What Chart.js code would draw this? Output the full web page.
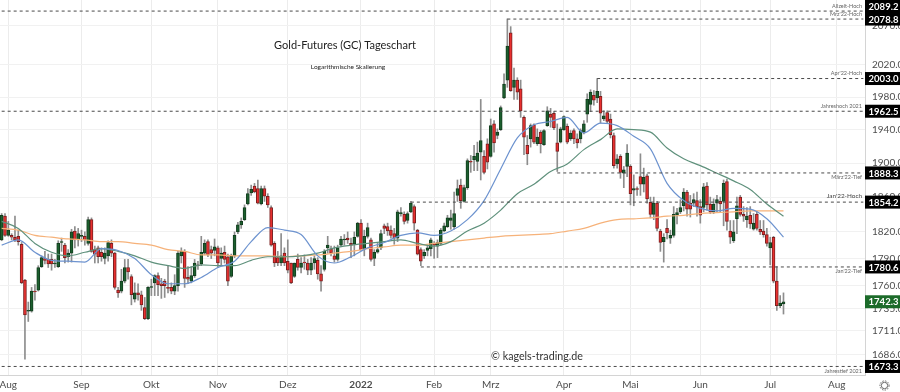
<!DOCTYPE html>
<html>
<head>
<meta charset="utf-8">
<title>Gold-Futures (GC) Tageschart</title>
<script src="https://cdn.jsdelivr.net/npm/chart.js@4/dist/chart.umd.min.js"></script>
<style>
  html, body { margin: 0; padding: 0; background: #fff; }
  canvas { display: block; }
</style>
</head>
<body>
<canvas id="goldChart" width="900" height="392"></canvas>
<script>
"use strict";

// daily candles, one block of ten per line
const opens = [
  1811,1838,1816,1816,1814,1815,1806,1766,1732,1732,
  1754,1755,1781,1790,1789,1789,1784,1781,1808,1805,
  1792,1796,1821,1811,1815,1815,1807,1834,1800,1802,
  1797,1790,1793,1807,1796,1755,1754,1765,1780,1770,
  1745,1752,1750,1736,1724,1758,1763,1771,1762,1765,
  1758,1758,1754,1760,1793,1798,1769,1765,1771,1783,
  1784,1796,1809,1800,1799,1802,1790,1797,1792,1770,
  1793,1820,1828,1834,1852,1865,1873,1870,1852,1870,
  1861,1848,1807,1791,1785,1796,1787,1785,1770,1789,
  1780,1786,1785,1777,1785,1788,1773,1778,1802,1801,
  1793,1789,1805,1811,1813,1807,1806,1815,1830,1801,
  1815,1811,1790,1797,1802,1827,1826,1822,1818,1813,
  1841,1840,1833,1843,1849,1822,1800,1793,1799,1801,
  1807,1804,1807,1821,1826,1833,1826,1862,1874,1855,
  1871,1902,1904,1902,1913,1908,1923,1908,1947,1933,
  1940,1979,2001,2061,1992,2001,1990,1955,1921,1929,
  1946,1923,1937,1922,1945,1959,1960,1924,1925,1940,
  1944,1929,1939,1929,1929,1937,1959,1971,1982,1979,
  1981,1953,1961,1953,1933,1899,1908,1888,1896,1896,
  1868,1870,1884,1875,1885,1854,1840,1853,1821,1809,
  1824,1813,1816,1839,1843,1850,1866,1853,1853,1856,
  1849,1848,1873,1852,1843,1853,1855,1855,1878,1821,
  1810,1835,1860,1840,1834,1839,1823,1840,1823,1821,
  1817,1802,1814,1765,1738,1740
];
const closes = [
  1839,1816,1822,1814,1811,1809,1763,1728,1733,1754,
  1753,1780,1791,1788,1784,1784,1785,1807,1809,1791,
  1796,1820,1811,1818,1816,1811,1834,1798,1795,1792,
  1792,1796,1808,1796,1758,1752,1765,1780,1775,1750,
  1752,1750,1739,1724,1758,1759,1771,1761,1760,1760,
  1757,1754,1760,1796,1798,1768,1767,1771,1785,1782,
  1797,1807,1794,1796,1803,1785,1796,1789,1765,1793,
  1816,1828,1832,1848,1864,1869,1866,1853,1870,1861,
  1851,1805,1785,1785,1793,1785,1777,1763,1785,1780,
  1785,1785,1777,1785,1790,1773,1765,1798,1805,1796,
  1789,1802,1812,1812,1811,1805,1814,1830,1800,1815,
  1825,1789,1797,1800,1818,1824,1821,1816,1813,1843,
  1842,1832,1841,1853,1830,1795,1787,1797,1802,1811,
  1805,1808,1822,1827,1836,1836,1841,1870,1856,1871,
  1903,1901,1908,1912,1927,1889,1901,1945,1924,1937,
  1967,1996,2044,1988,2001,1986,1963,1931,1911,1945,
  1925,1931,1923,1939,1963,1955,1942,1914,1941,1956,
  1925,1936,1929,1924,1939,1947,1977,1986,1976,1987,
  1960,1957,1950,1934,1897,1905,1889,1892,1912,1864,
  1870,1869,1875,1883,1858,1840,1853,1824,1808,1814,
  1819,1816,1840,1842,1848,1866,1846,1846,1857,1849,
  1839,1872,1851,1843,1852,1857,1852,1876,1832,1814,
  1820,1850,1840,1838,1838,1829,1830,1824,1820,1817,
  1807,1808,1765,1738,1741,1742.3
];
const highs = [
  1841,1841,1832,1818,1838,1822,1808,1767,1742,1758,
  1761,1782,1793,1798,1795,1795,1789,1810,1813,1807,
  1800,1823,1826,1824,1822,1820,1837,1836,1804,1804,
  1802,1802,1810,1811,1797,1758,1778,1789,1789,1772,
  1763,1762,1754,1747,1759,1767,1772,1774,1768,1767,
  1782,1763,1772,1798,1802,1800,1781,1781,1789,1787,
  1815,1811,1811,1804,1812,1804,1802,1804,1795,1795,
  1820,1831,1836,1851,1870,1874,1876,1880,1873,1873,
  1864,1850,1809,1798,1818,1802,1811,1785,1785,1795,
  1791,1794,1789,1791,1793,1791,1782,1800,1815,1804,
  1804,1805,1815,1817,1820,1813,1820,1831,1834,1822,
  1830,1813,1800,1807,1822,1829,1830,1827,1824,1845,
  1848,1843,1843,1855,1851,1823,1802,1800,1804,1813,
  1809,1811,1824,1830,1839,1845,1866,1880,1881,1874,
  1905,1909,1921,1925,1977,1915,1929,1953,1951,1941,
  1969,2009,2079,2069,2016,2004,2001,1957,1933,1947,
  1947,1941,1939,1940,1968,1966,1962,1947,1943,1957,
  1947,1939,1941,1935,1941,1951,1984,1989,1988,2003,
  1987,1963,1963,1959,1936,1910,1910,1896,1922,1898,
  1886,1872,1911,1894,1887,1860,1860,1855,1823,1818,
  1834,1822,1849,1847,1857,1870,1868,1862,1864,1866,
  1857,1876,1877,1860,1858,1862,1860,1880,1881,1833,
  1833,1860,1862,1849,1848,1849,1841,1843,1833,1833,
  1824,1814,1815,1781,1749,1752
];
const lows = [
  1810,1815,1815,1811,1809,1805,1762,1681,1721,1731,
  1744,1754,1780,1784,1780,1777,1780,1780,1798,1785,
  1786,1786,1802,1804,1809,1805,1805,1797,1785,1785,
  1787,1784,1787,1792,1756,1747,1752,1763,1767,1739,
  1742,1744,1733,1723,1723,1749,1749,1749,1746,1747,
  1752,1751,1750,1754,1785,1758,1762,1763,1769,1778,
  1782,1794,1792,1790,1793,1780,1782,1785,1760,1769,
  1791,1818,1824,1833,1851,1862,1865,1852,1851,1855,
  1848,1804,1781,1782,1782,1782,1774,1762,1769,1777,
  1774,1778,1772,1772,1778,1767,1754,1776,1796,1793,
  1786,1787,1804,1805,1807,1791,1793,1814,1799,1793,
  1813,1787,1782,1796,1800,1818,1816,1813,1806,1809,
  1838,1829,1830,1842,1822,1794,1782,1790,1793,1793,
  1790,1791,1805,1820,1825,1823,1823,1855,1847,1854,
  1869,1889,1891,1891,1880,1887,1893,1907,1913,1929,
  1939,1978,1992,1987,1977,1977,1955,1910,1898,1919,
  1923,1921,1912,1921,1944,1943,1940,1890,1924,1939,
  1923,1927,1923,1918,1924,1935,1949,1962,1970,1973,
  1948,1951,1948,1930,1894,1894,1882,1871,1884,1851,
  1850,1862,1862,1866,1853,1836,1834,1821,1798,1786,
  1812,1807,1814,1829,1841,1844,1838,1837,1849,1838,
  1830,1843,1845,1841,1841,1843,1843,1827,1822,1807,
  1808,1818,1838,1832,1825,1824,1822,1822,1817,1814,
  1804,1783,1763,1733,1736,1729
];

const avgEvery = 5;
const avgBlue = [
  1805,1811,1797,1788,1787,1786,1801,1799,1790,1772,
  1762,1762,1769,1780,1787,1809,1825,1822,1817,1793,
  1785,1792,1802,1808,1816,1819,1816,1821,1834,1856,
  1893,1930,1946,1950,1955,1936,1948,1945,1932,1917,
  1876,1856,1847,1844,1847,1846,1835,1814
];
const avgGreen = [
  1832,1824,1807,1797,1793,1797,1801,1798,1793,1786,
  1782,1779,1783,1782,1782,1788,1792,1792,1793,1796,
  1802,1805,1807,1809,1811,1807,1804,1809,1821,1830,
  1845,1864,1875,1890,1899,1916,1928,1941,1940,1937,
  1918,1905,1897,1888,1879,1869,1852,1838
];
const avgOrange = [
  1824,1822,1816,1814,1812,1811,1809,1809,1807,1805,
  1800,1798,1794,1794,1793,1793,1793,1792,1793,1794,
  1796,1798,1801,1803,1805,1805,1807,1809,1811,1813,
  1815,1816,1817,1818,1821,1824,1830,1834,1835,1836,
  1838,1839,1841,1842,1843,1844,1844,1844
];

// x axis: number of day slots, month names and the slot they sit on
const slotCount = 260;
const monthNames = ["Aug", "Sep", "Okt", "Nov", "Dez", "2022", "Feb", "Mrz", "Apr", "Mai", "Jun", "Jul", "Aug"];
const monthSlots = [2, 24, 45, 65, 86, 108, 130, 147, 169, 189, 210, 231, 251];

const priceTicks = [2070, 2020, 1980, 1940, 1900, 1860, 1820, 1790, 1760, 1735, 1711, 1686];

// marked price levels
const levelPrices = [2089.2, 2078.8, 2003.0, 1962.5, 1888.3, 1854.2, 1780.6, 1673.3];
const levelNames = ["Allzeit-Hoch", "Mrz'22-Hoch", "Apr'22-Hoch", "Jahreshoch 2021", "März'22-Tief", "Jan'22-Hoch", "Jan'22-Tief", "Jahrestief 2021"];
const levelStarts = [0, 152, 179, 0, 167, 123, 126, 0];
const lastPrice = 1742.3;

const FONT = "Lato, 'Open Sans', sans-serif";
const AXIS_WIDTH = 35;
const BOTTOM_HEIGHT = 17;

const labels = new Array(slotCount).fill("");
monthSlots.forEach((slot, i) => {
  labels[slot] = monthNames[i];
});

function sparse(values) {
  const data = new Array(opens.length).fill(null);
  values.forEach((v, i) => {
    data[i * avgEvery] = v;
  });
  return data;
}

function levelLine(price, start) {
  const data = new Array(slotCount).fill(null);
  data[start] = price;
  data[slotCount - 1] = price;
  return {
    type: "line",
    data: data,
    borderColor: "#4a4a4a",
    borderWidth: 1,
    borderDash: [3, 3],
    pointRadius: 0,
    spanGaps: true,
    order: 1,
  };
}

function avgLine(values, color) {
  return {
    type: "line",
    data: sparse(values),
    borderColor: color,
    borderWidth: 1.2,
    pointRadius: 0,
    spanGaps: true,
    cubicInterpolationMode: "monotone",
    order: 2,
  };
}

const isUp = (ctx) => closes[ctx.dataIndex] >= opens[ctx.dataIndex];

const datasets = [
  {
    data: opens.map((o, i) => [opens[i], closes[i]]),
    backgroundColor: (ctx) => (isUp(ctx) ? "#1c5f2e" : "#e8302f"),
    borderColor: (ctx) => (isUp(ctx) ? "#123d1e" : "#7a2020"),
    borderWidth: 1,
    borderSkipped: false,
    barThickness: 3,
    grouped: false,
    order: 3,
  },
  {
    data: lows.map((l, i) => [lows[i], highs[i]]),
    backgroundColor: "#8d8d8d",
    borderWidth: 0,
    barThickness: 1,
    grouped: false,
    order: 4,
  },
  avgLine(avgBlue, "#6d93cf"),
  avgLine(avgGreen, "#5f917c"),
  avgLine(avgOrange, "#f6b27a"),
];
levelPrices.forEach((p, i) => datasets.push(levelLine(p, levelStarts[i])));

// text over the chart: headline, level names, price tags, settings wheel
const overlay = {
  id: "overlay",
  afterDraw(chart) {
    const c = chart.ctx;
    const y = chart.scales.y;
    const right = chart.chartArea.right;
    c.save();
    c.textBaseline = "middle";

    c.fillStyle = "#222";
    c.textAlign = "center";
    c.font = "11px " + FONT;
    c.fillText("Gold-Futures (GC) Tageschart", 345, 45);
    c.font = "6.5px " + FONT;
    c.fillText("Logarithmische Skalierung", 348, 67);
    c.font = "10.7px " + FONT;
    c.fillStyle = "#333";
    c.fillText("© kagels-trading.de", 537, 357);

    c.textAlign = "right";
    levelPrices.forEach((p, i) => {
      const py = y.getPixelForValue(p);
      const below = levelNames[i].includes("Tief") || levelNames[i].includes("tief");
      const big = levelNames[i] === "Jan'22-Hoch";
      c.font = (big ? "6.4px " : "5.5px ") + FONT;
      c.fillStyle = big ? "#444" : "#666";
      c.fillText(levelNames[i], right - 3, py + (below ? 4.5 : big ? -6 : -5));
    });

    const tag = (price, color, tagY) => {
      c.fillStyle = color;
      c.fillRect(right, tagY - 6.5, AXIS_WIDTH, 13);
      c.fillStyle = "#fff";
      c.textAlign = "center";
      c.font = "bold 9.5px " + FONT;
      c.fillText(price.toFixed(1), right + AXIS_WIDTH / 2 + 1, tagY + 0.5);
    };
    levelPrices.forEach((p, i) => {
      // top tag would be cut by the edge and collide with the next one
      tag(p, "#000", i === 0 ? 6.5 : y.getPixelForValue(p));
    });
    tag(lastPrice, "#1c6b2a", y.getPixelForValue(lastPrice));

    // settings wheel
    c.strokeStyle = "#666";
    c.lineWidth = 1;
    c.beginPath();
    c.arc(884.5, 385.5, 3.2, 0, Math.PI * 2);
    c.stroke();
    c.setLineDash([1.5, 1.2]);
    c.beginPath();
    c.arc(884.5, 385.5, 4.6, 0, Math.PI * 2);
    c.stroke();
    c.restore();
  },
};

new Chart(document.getElementById("goldChart"), {
  type: "bar",
  data: { labels: labels, datasets: datasets },
  options: {
    responsive: false,
    animation: false,
    layout: { padding: 0 },
    plugins: { legend: { display: false }, tooltip: { enabled: false } },
    scales: {
      x: {
        type: "category",
        offset: true,
        afterBuildTicks(scale) {
          scale.ticks = scale.ticks.filter((t) => labels[t.value] !== "");
        },
        afterFit(scale) {
          scale.height = BOTTOM_HEIGHT;
          scale.paddingLeft = 0;
          scale.paddingRight = 0;
        },
        grid: { offset: false, color: "#ececec", drawTicks: false },
        border: { color: "#d4d4d4" },
        ticks: {
          autoSkip: false,
          maxRotation: 0,
          padding: 4,
          color: "#4d4d4d",
          font: (ctx) => ({
            family: FONT,
            size: 10,
            weight: ctx.tick && ctx.tick.label === "2022" ? "bold" : "normal",
          }),
          callback(value) {
            return labels[value];
          },
        },
      },
      y: {
        type: "logarithmic",
        position: "right",
        min: 1664.4,
        max: 2103.7,
        bounds: "data",
        afterBuildTicks(scale) {
          scale.ticks = priceTicks.map((v) => ({ value: v }));
        },
        afterFit(scale) {
          scale.width = AXIS_WIDTH;
          scale.paddingTop = 0;
          scale.paddingBottom = 0;
        },
        grid: { color: "#f1f1f1", drawTicks: false },
        border: { color: "#d4d4d4" },
        ticks: {
          autoSkip: false,
          padding: 7,
          color: "#4d4d4d",
          font: { family: FONT, size: 10 },
          callback(value) {
            return value.toFixed(1);
          },
        },
      },
    },
  },
  plugins: [overlay],
});
</script>
</body>
</html>
